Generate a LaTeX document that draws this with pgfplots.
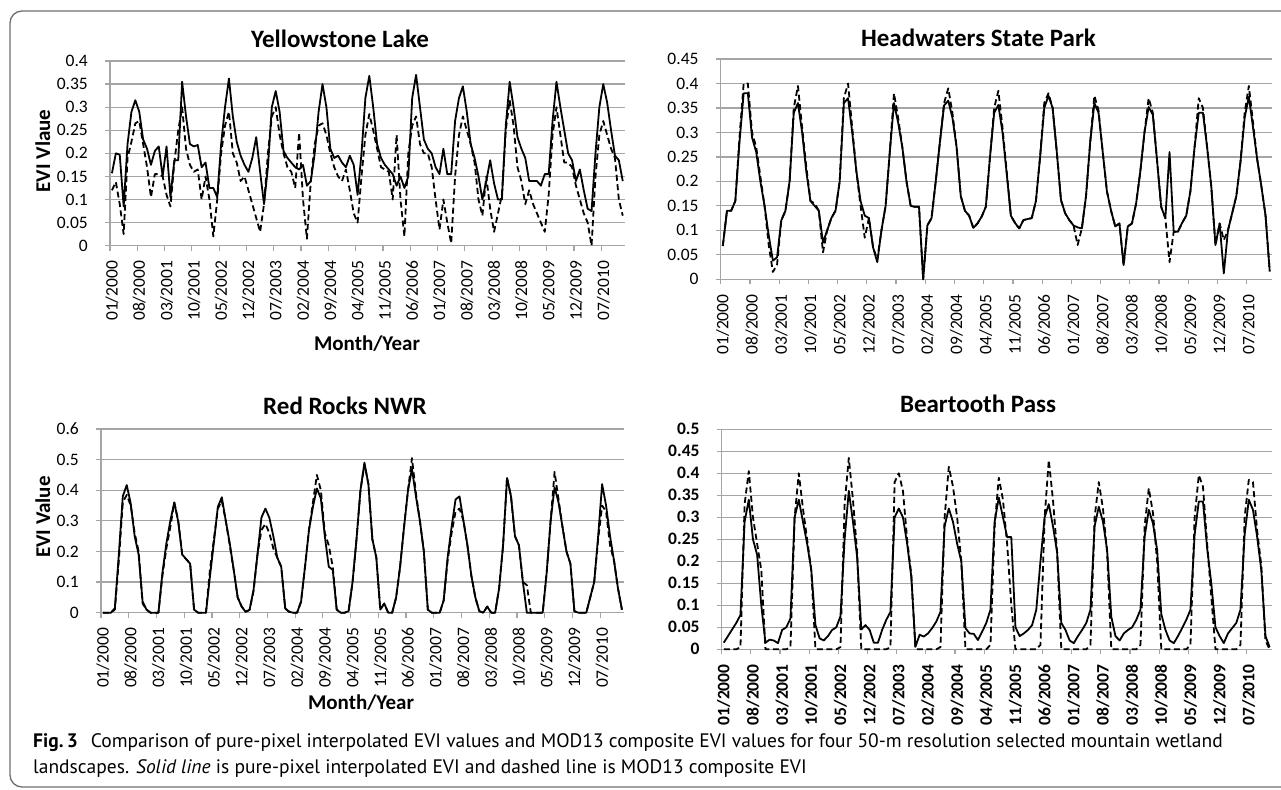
\documentclass[border=0pt]{standalone}
\usepackage{fontspec}
\setmainfont{Carlito}
\newfontfamily\capfont{PT Sans}
\usepackage{pgfplots}
\usepackage{pgfplotstable}
\pgfplotsset{compat=1.18}
\definecolor{gridc}{RGB}{165,165,165}
\definecolor{framec}{RGB}{110,110,110}
\newcommand\ticfont{\fontsize{17.5}{20}\selectfont}
\newcommand\titfont{\fontsize{25}{30}\selectfont\bfseries}
\newcommand\labfont{\fontsize{21}{25}\selectfont\bfseries}

% Yellowstone Lake: s = pure-pixel interpolated EVI, d = MOD13 composite EVI (monthly, 01/2000-12/2010)
\pgfplotstableread{
s d
0.157 0.12
0.20 0.138
0.197 0.09
0.085 0.025
0.22 0.19
0.29 0.225
0.315 0.265
0.29 0.27
0.23 0.22
0.21 0.17
0.175 0.105
0.205 0.155
0.215 0.155
0.15 0.15
0.215 0.11
0.105 0.085
0.185 0.18
0.185 0.25
0.355 0.30
0.28 0.21
0.22 0.175
0.215 0.16
0.218 0.165
0.17 0.10
0.18 0.15
0.125 0.10
0.125 0.02
0.105 0.10
0.22 0.20
0.30 0.26
0.362 0.29
0.28 0.20
0.225 0.18
0.195 0.14
0.175 0.15
0.16 0.12
0.19 0.09
0.235 0.06
0.16 0.03
0.09 0.09
0.17 0.20
0.30 0.28
0.335 0.30
0.29 0.24
0.205 0.20
0.19 0.17
0.18 0.16
0.17 0.125
0.165 0.245
0.175 0.10
0.13 0.015
0.14 0.14
0.20 0.22
0.29 0.26
0.35 0.265
0.30 0.24
0.21 0.20
0.19 0.17
0.195 0.15
0.18 0.14
0.17 0.165
0.195 0.12
0.175 0.07
0.11 0.05
0.20 0.15
0.32 0.24
0.368 0.285
0.30 0.25
0.22 0.21
0.19 0.17
0.175 0.165
0.165 0.16
0.155 0.10
0.13 0.24
0.15 0.10
0.125 0.02
0.15 0.20
0.32 0.26
0.37 0.28
0.30 0.22
0.23 0.20
0.21 0.20
0.20 0.17
0.17 0.10
0.155 0.035
0.21 0.10
0.155 0.05
0.155 0.005
0.27 0.15
0.32 0.24
0.345 0.28
0.29 0.25
0.22 0.22
0.19 0.18
0.15 0.10
0.10 0.065
0.14 0.15
0.185 0.08
0.135 0.03
0.10 0.07
0.10 0.11
0.26 0.25
0.355 0.315
0.30 0.26
0.235 0.17
0.21 0.14
0.19 0.09
0.14 0.12
0.14 0.09
0.14 0.07
0.13 0.05
0.155 0.03
0.155 0.11
0.27 0.24
0.355 0.30
0.30 0.24
0.25 0.18
0.20 0.18
0.185 0.17
0.14 0.13
0.165 0.10
0.12 0.07
0.08 0.05
0.075 0.00
0.20 0.15
0.30 0.24
0.35 0.27
0.31 0.24
0.25 0.21
0.195 0.19
0.185 0.10
0.14 0.065
}\tabA

% Headwaters State Park
\pgfplotstableread{
s d
0.068 0.068
0.14 0.14
0.14 0.14
0.16 0.16
0.28 0.29
0.38 0.40
0.38 0.40
0.29 0.30
0.26 0.27
0.20 0.21
0.15 0.15
0.09 0.07
0.038 0.015
0.045 0.03
0.12 0.12
0.14 0.14
0.20 0.20
0.34 0.35
0.36 0.395
0.30 0.31
0.22 0.23
0.16 0.16
0.15 0.155
0.14 0.14
0.075 0.055
0.10 0.10
0.125 0.125
0.14 0.14
0.20 0.20
0.36 0.37
0.37 0.40
0.30 0.31
0.22 0.22
0.16 0.15
0.13 0.085
0.125 0.125
0.065 0.065
0.035 0.04
0.10 0.10
0.15 0.15
0.26 0.26
0.36 0.38
0.32 0.33
0.27 0.27
0.20 0.20
0.15 0.15
0.148 0.148
0.148 0.148
0.0 0.0
0.11 0.11
0.125 0.125
0.20 0.20
0.28 0.28
0.355 0.36
0.365 0.39
0.33 0.34
0.27 0.27
0.17 0.17
0.14 0.14
0.13 0.13
0.105 0.105
0.114 0.114
0.128 0.128
0.148 0.148
0.25 0.25
0.34 0.35
0.356 0.385
0.30 0.31
0.216 0.22
0.13 0.13
0.115 0.115
0.104 0.104
0.121 0.121
0.123 0.123
0.125 0.125
0.16 0.16
0.25 0.25
0.35 0.36
0.375 0.38
0.35 0.35
0.26 0.26
0.162 0.162
0.135 0.135
0.121 0.121
0.11 0.11
0.106 0.07
0.104 0.104
0.17 0.17
0.28 0.28
0.36 0.375
0.34 0.345
0.26 0.26
0.18 0.18
0.14 0.14
0.108 0.108
0.114 0.114
0.029 0.029
0.108 0.108
0.114 0.114
0.155 0.155
0.22 0.22
0.30 0.30
0.352 0.37
0.336 0.34
0.244 0.244
0.148 0.148
0.125 0.125
0.26 0.035
0.097 0.097
0.097 0.097
0.115 0.115
0.13 0.13
0.18 0.18
0.27 0.27
0.34 0.37
0.34 0.35
0.27 0.27
0.19 0.19
0.07 0.07
0.114 0.114
0.012 0.08
0.10 0.10
0.135 0.135
0.17 0.17
0.24 0.24
0.33 0.34
0.373 0.395
0.31 0.32
0.245 0.245
0.19 0.19
0.13 0.13
0.016 0.016
}\tabB

% Red Rocks NWR
\pgfplotstableread{
s d
0 0
0 0
0 0
0.015 0.01
0.19 0.17
0.38 0.36
0.417 0.385
0.357 0.35
0.25 0.26
0.19 0.20
0.036 0.03
0.01 0.01
0 0
0 0
0 0
0.13 0.12
0.226 0.21
0.30 0.28
0.36 0.36
0.297 0.30
0.19 0.19
0.175 0.175
0.16 0.16
0.01 0.01
0 0
0 0
0 0
0.118 0.14
0.23 0.24
0.346 0.34
0.377 0.365
0.30 0.30
0.227 0.22
0.14 0.14
0.05 0.05
0.02 0.02
0.003 0.003
0.009 0.009
0.074 0.07
0.19 0.19
0.311 0.27
0.34 0.29
0.31 0.26
0.25 0.21
0.18 0.18
0.15 0.15
0.014 0.014
0.003 0.003
0 0
0 0
0.036 0.036
0.15 0.15
0.27 0.27
0.346 0.36
0.406 0.45
0.373 0.40
0.25 0.26
0.15 0.22
0.14 0.15
0.01 0.01
0 0
0 0
0.005 0.005
0.10 0.10
0.24 0.24
0.40 0.40
0.49 0.485
0.42 0.42
0.24 0.24
0.18 0.18
0.01 0.01
0.03 0.03
0 0
0 0
0.05 0.05
0.15 0.15
0.28 0.28
0.40 0.40
0.47 0.505
0.38 0.39
0.30 0.30
0.20 0.20
0.01 0.01
0 0
0 0
0 0
0.04 0.04
0.18 0.17
0.28 0.26
0.37 0.33
0.38 0.34
0.30 0.30
0.22 0.22
0.12 0.12
0.05 0.05
0.005 0.005
0 0
0.02 0.02
0 0
0 0
0.08 0.08
0.22 0.22
0.44 0.44
0.38 0.38
0.25 0.25
0.22 0.22
0.10 0.10
0 0.09
0 0
0 0
0 0
0 0
0.13 0.13
0.30 0.30
0.41 0.46
0.36 0.37
0.28 0.28
0.20 0.20
0.16 0.16
0.005 0.005
0 0
0 0
0 0
0.05 0.05
0.10 0.10
0.25 0.24
0.42 0.35
0.35 0.33
0.25 0.22
0.17 0.17
0.08 0.08
0.01 0.01
}\tabC

% Beartooth Pass
\pgfplotstableread{
s d
0.015 0
0.03 0
0.045 0
0.06 0
0.078 0.005
0.29 0.33
0.34 0.405
0.25 0.30
0.215 0.24
0.10 0.18
0.015 0
0.022 0
0.02 0
0.014 0
0.044 0
0.05 0
0.07 0.005
0.30 0.30
0.34 0.40
0.29 0.32
0.24 0.25
0.18 0.18
0.055 0
0.025 0
0.02 0
0.03 0
0.044 0
0.05 0
0.075 0.005
0.25 0.33
0.36 0.435
0.29 0.34
0.21 0.22
0.045 0
0.055 0
0.044 0
0.015 0
0.015 0
0.044 0
0.067 0
0.085 0.005
0.30 0.38
0.32 0.40
0.30 0.36
0.24 0.25
0.165 0.17
0.006 0
0.033 0
0.029 0
0.036 0
0.048 0
0.063 0
0.085 0.005
0.28 0.30
0.32 0.415
0.29 0.37
0.24 0.30
0.20 0.20
0.048 0
0.036 0
0.035 0
0.021 0
0.04 0
0.06 0
0.09 0.01
0.29 0.28
0.345 0.39
0.30 0.34
0.255 0.24
0.255 0.10
0.05 0
0.03 0
0.036 0
0.044 0
0.055 0
0.09 0
0.20 0.01
0.30 0.30
0.33 0.43
0.28 0.34
0.22 0.22
0.06 0
0.044 0
0.02 0
0.014 0
0.03 0
0.044 0
0.06 0
0.09 0.01
0.28 0.30
0.324 0.38
0.29 0.32
0.226 0.22
0.074 0
0.03 0
0.02 0
0.036 0
0.044 0
0.05 0
0.067 0
0.09 0.01
0.256 0.28
0.317 0.366
0.286 0.31
0.226 0.20
0.08 0
0.044 0
0.02 0
0.014 0
0.03 0
0.048 0
0.067 0
0.09 0.01
0.26 0.30
0.336 0.396
0.336 0.37
0.23 0.24
0.15 0.12
0.05 0
0.03 0
0.014 0
0.036 0
0.048 0
0.06 0
0.09 0.01
0.26 0.30
0.34 0.385
0.317 0.38
0.256 0.27
0.18 0.19
0.03 0.02
0.005 0
}\tabD

\pgfplotsset{
  panel/.style={
    scale only axis, anchor=south west,
    xmin=0, xmax=132, ymin=0,
    axis lines*=left,
    axis line style={draw=gridc, line width=1.2pt, -},
    ymajorgrids, grid style={draw=gridc, line width=1.2pt},
    tick style={draw=gridc, line width=1.2pt},
    tick align=outside, major tick length=5pt,
    xtick={0,7,14,21,28,35,42,49,56,63,70,77,84,91,98,105,112,119,126},
    xticklabels={01/2000,08/2000,03/2001,10/2001,05/2002,12/2002,07/2003,02/2004,09/2004,04/2005,11/2005,06/2006,01/2007,08/2007,03/2008,10/2008,05/2009,12/2009,07/2010},
    xticklabel style={font=\ticfont, xshift=2pt, yshift=-10pt, rotate=90, anchor=east, inner sep=0pt},
    yticklabel style={font=\ticfont, xshift=-17pt, anchor=east, inner sep=0pt},
    clip=false,
  },
  solidl/.style={black, line width=1.8pt, line join=round, mark=none},
  dashl/.style={black, line width=1.8pt, line join=round, dash pattern=on 6pt off 3.5pt, mark=none},
}

\begin{document}
\begin{tikzpicture}[x=1pt,y=1pt]
\useasboundingbox (0,0) rectangle (1281,789);
\draw[framec, line width=1.3pt, rounded corners=12pt] (10,2) rectangle (1300,778);

% Yellowstone Lake
\begin{axis}[panel, at={(110pt,543.3pt)}, width=514.7pt, height=184.7pt, ymax=0.4,
  ytick={0,0.05,0.1,0.15,0.2,0.25,0.3,0.35,0.4},
  yticklabels={0,0.05,0.1,0.15,0.2,0.25,0.3,0.35,0.4}]
\addplot[solidl] table[x expr=\coordindex+0.5, y=s] {\tabA};
\addplot[dashl] table[x expr=\coordindex+0.5, y=d] {\tabA};
\end{axis}

% Headwaters State Park
\begin{axis}[panel, at={(720.7pt,509.7pt)}, width=551.1pt, height=220.3pt, ymax=0.45,
  ytick={0,0.05,0.1,0.15,0.2,0.25,0.3,0.35,0.4,0.45},
  yticklabels={0,0.05,0.1,0.15,0.2,0.25,0.3,0.35,0.4,0.45}]
\addplot[solidl] table[x expr=\coordindex+0.5, y=s] {\tabB};
\addplot[dashl] table[x expr=\coordindex+0.5, y=d] {\tabB};
\end{axis}

% Red Rocks NWR
\begin{axis}[panel, at={(101pt,176.3pt)}, width=522.9pt, height=183.7pt, ymax=0.6,
  ytick={0,0.1,0.2,0.3,0.4,0.5,0.6},
  yticklabels={0,0.1,0.2,0.3,0.4,0.5,0.6}]
\addplot[solidl] table[x expr=\coordindex+0.5, y=s] {\tabC};
\addplot[dashl] table[x expr=\coordindex+0.5, y=d] {\tabC};
\end{axis}

% Beartooth Pass
\begin{axis}[panel, at={(721.7pt,139.7pt)}, width=550pt, height=220pt, ymax=0.5,
  ytick={0,0.05,0.1,0.15,0.2,0.25,0.3,0.35,0.4,0.45,0.5},
  yticklabels={0,0.05,0.1,0.15,0.2,0.25,0.3,0.35,0.4,0.45,0.5},
  xticklabel style={font=\ticfont\bfseries},
  yticklabel style={font=\ticfont\bfseries}]
\addplot[solidl] table[x expr=\coordindex+0.5, y=s] {\tabD};
\addplot[dashl] table[x expr=\coordindex+0.5, y=d] {\tabD};
\end{axis}

% titles and labels
\node[anchor=base, font=\titfont] at (340,741) {Yellowstone Lake};
\node[anchor=base, font=\titfont] at (978.5,742) {Headwaters State Park};
\node[anchor=base, font=\titfont] at (345,374) {Red Rocks NWR};
\node[anchor=base, font=\titfont] at (978,376) {Beartooth Pass};
\node[anchor=base, rotate=90, font=\labfont] at (50,638) {EVI Vlaue};
\node[anchor=base, rotate=90, font=\labfont] at (50,272) {EVI Value};
\node[anchor=base, font=\labfont] at (367,438) {Month/Year};
\node[anchor=base, font=\labfont] at (361,79) {Month/Year};

% caption
\node[anchor=base west, inner sep=0pt, font=\capfont\fontsize{19.5}{23}\selectfont] at (33,41)
  {\textbf{Fig.\,3}\hspace{13pt}Comparison of pure-pixel interpolated EVI values and MOD13 composite EVI values for four 50-m resolution selected mountain wetland};
\node[anchor=base west, inner sep=0pt, font=\capfont\fontsize{19.5}{23}\selectfont] at (33,16)
  {landscapes. \textit{Solid line} is pure-pixel interpolated EVI and dashed line is MOD13 composite EVI};
\end{tikzpicture}
\end{document}
